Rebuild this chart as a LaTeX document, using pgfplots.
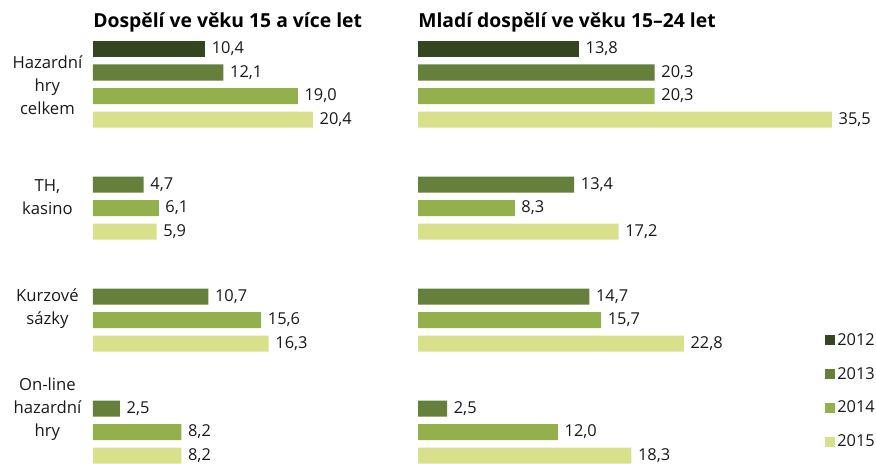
\documentclass[border=0pt]{standalone}
\usepackage{fontspec}
\setmainfont{Open Sans}
\usepackage{pgfplots}
\pgfplotsset{compat=1.18}
\definecolor{c12}{RGB}{52,69,32}
\definecolor{c13}{RGB}{100,128,58}
\definecolor{c14}{RGB}{148,176,77}
\definecolor{c15}{RGB}{216,224,140}
\pgfplotsset{
  panel/.style={
    xbar, y=0.75pt, xmin=0, ymin=-464, ymax=-40,
    axis line style={draw=none}, xtick=\empty, major tick length=0pt,
    clip=false, anchor=north west,
    point meta=x,
    nodes near coords={\pgfmathprintnumber[use comma,fixed,fixed zerofill,precision=1,assume math mode=true]{\pgfplotspointmeta}},
    nodes near coords align={horizontal},
    every node near coord/.append style={font=\fontsize{12.3}{14}\selectfont, text=black!90, xshift=1.5pt},
    title style={at={(0,1)}, anchor=base west, yshift=3pt, inner sep=0pt, font=\bfseries\fontsize{14.5}{17}\selectfont},
  },
  sq legend/.style={legend image code/.code={\fill[##1] (0pt,-3.75pt) rectangle (7.5pt,3.75pt);}},
  bs/.style={bar shift=0pt, bar width=12pt, draw=none, fill=#1, sq legend},
}
\begin{document}
\begin{tikzpicture}
\begin{axis}[panel, at={(69.75pt,-30pt)}, x=8.085pt, xmax=26,
  title={Dospělí ve věku 15 a více let},
  ytick={-85,-197,-308.5,-409},
  yticklabels={{Hazardní\\hry\\celkem},{TH,\\kasino},{Kurzové\\sázky},{On-line\\hazardní\\hry}},
  yticklabel style={align=center, text width=62pt, inner sep=0pt, anchor=east, xshift=-3pt, font=\fontsize{12.5}{17.25}\selectfont, text=black!90},
]
\addplot[bs=c12] coordinates {(10.4,-49)};
\addplot[bs=c13] coordinates {(12.1,-72.5) (4.7,-184.5) (10.7,-296.5) (2.5,-408.5)};
\addplot[bs=c14] coordinates {(19.0,-96) (6.1,-208) (15.6,-320) (8.2,-432)};
\addplot[bs=c15] coordinates {(20.4,-119.5) (5.9,-231.5) (16.3,-343.5) (8.2,-455.5)};
\end{axis}
\begin{axis}[panel, at={(313.5pt,-30pt)}, x=8.745pt, xmax=38,
  title={Mladí dospělí ve věku 15–24 let},
  ytick=\empty,
  legend style={at={(axis cs:34.85,-391)}, anchor=west, draw=none, fill=none, font=\fontsize{12.3}{14}\selectfont, row sep=11pt, inner sep=0pt, nodes={text=black!90}},
  legend cell align=left,
]
\addplot[bs=c12] coordinates {(13.8,-49)};
\addplot[bs=c13] coordinates {(20.3,-72.5) (13.4,-184.5) (14.7,-296.5) (2.5,-408.5)};
\addplot[bs=c14] coordinates {(20.3,-96) (8.3,-208) (15.7,-320) (12.0,-432)};
\addplot[bs=c15] coordinates {(35.5,-119.5) (17.2,-231.5) (22.8,-343.5) (18.3,-455.5)};
\legend{2012,2013,2014,2015}
\end{axis}
\pgfresetboundingbox
\path[use as bounding box] (0,0) rectangle (657pt,-348pt);
\end{tikzpicture}
\end{document}
